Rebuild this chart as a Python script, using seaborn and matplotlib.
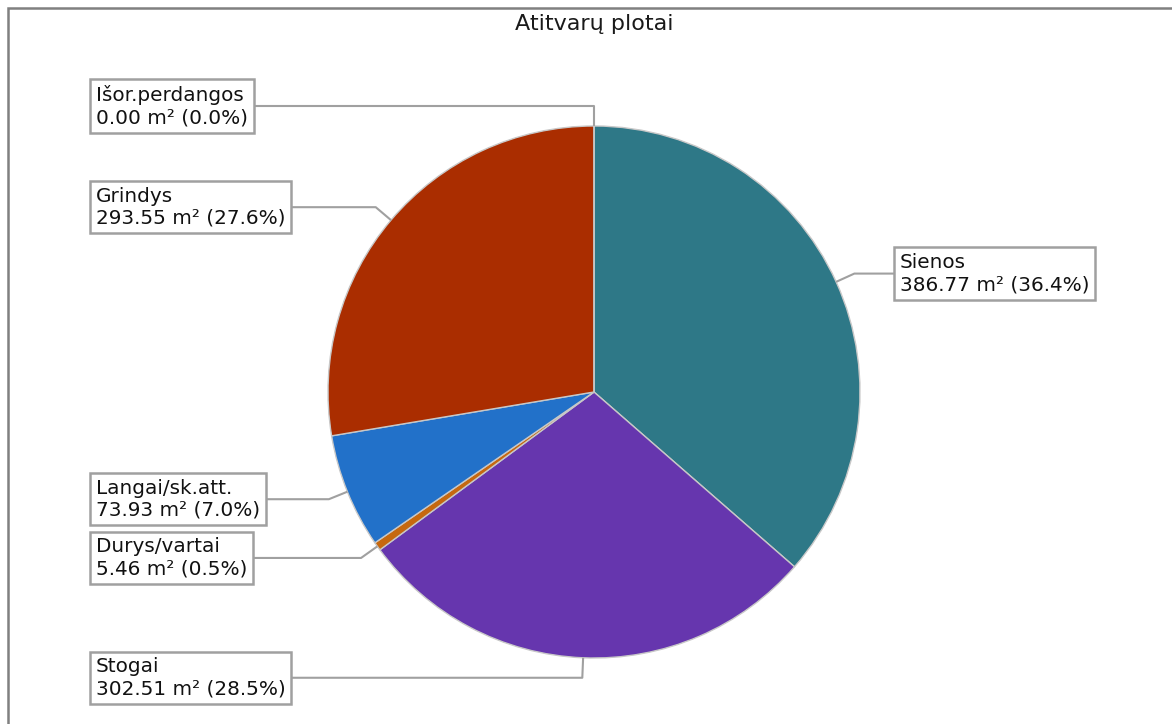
import numpy as np
import matplotlib
matplotlib.use("Agg")
import matplotlib.pyplot as plt
import seaborn as sns
from matplotlib.patches import Rectangle

# ---- data ----
categories = ["Sienos", "Stogai", "Durys/vartai", "Langai/sk.att.", "Grindys", "Išor.perdangos"]
areas = [386.77, 302.51, 5.46, 73.93, 293.55, 0.00]
slice_colors = ["#2E7887", "#6636AE", "#C6680F", "#2271C9", "#AA2D00", "#888888"]
title = "Atitvarų plotai"

sns.set_theme(style="white")
plt.rcParams['font.family'] = ['DejaVu Sans']

W, H = 1172, 724
fig = plt.figure(figsize=(W / 100, H / 100), dpi=100)
ax = fig.add_axes([0, 0, 1, 1])

cx, cy, R = 594, H - 392, 266
wedges, _ = ax.pie(areas, colors=slice_colors, startangle=90, counterclock=False,
                   center=(cx, cy), radius=R,
                   wedgeprops=dict(edgecolor="#c8c8c8", linewidth=1.0))
ax.set_xlim(0, W)
ax.set_ylim(0, H)
ax.set_aspect("equal")
ax.axis("off")

total = sum(areas)
left_x, right_x = 90, 894
fs = 14.4
for w, name, v in zip(wedges, categories, areas):
    mid = np.deg2rad((w.theta1 + w.theta2) / 2)
    px, py = cx + R * np.cos(mid), cy + R * np.sin(mid)
    ex, ey = cx + (R + 20) * np.cos(mid), cy + (R + 20) * np.sin(mid)
    right = np.cos(mid) > 0.05
    bx = right_x if right else left_x
    ax.plot([px, ex, bx], [py, ey, ey], color="#a0a0a0", lw=1.5, zorder=3,
            solid_capstyle="butt")
    pct = 100 * v / total
    ax.text(bx + 6, ey, f"{name}\n{v:.2f} m² ({pct:.1f}%)", ha="left", va="center",
            fontsize=fs, color="#111111", linespacing=1.2, zorder=5,
            bbox=dict(boxstyle="square,pad=0.28", facecolor="white",
                      edgecolor="#a0a0a0", linewidth=1.8))

ax.text(cx, H - 24, title, ha="center", va="center", fontsize=16, color="#1a1a1a")

# frame border (top and left visible)
fig.patches.append(Rectangle((8 / W, -0.1), 1.2, (H - 8) / H + 0.1, transform=fig.transFigure,
                             fill=False, edgecolor="#808080", linewidth=1.8))

fig.savefig("out.png", dpi=100, facecolor="white")
